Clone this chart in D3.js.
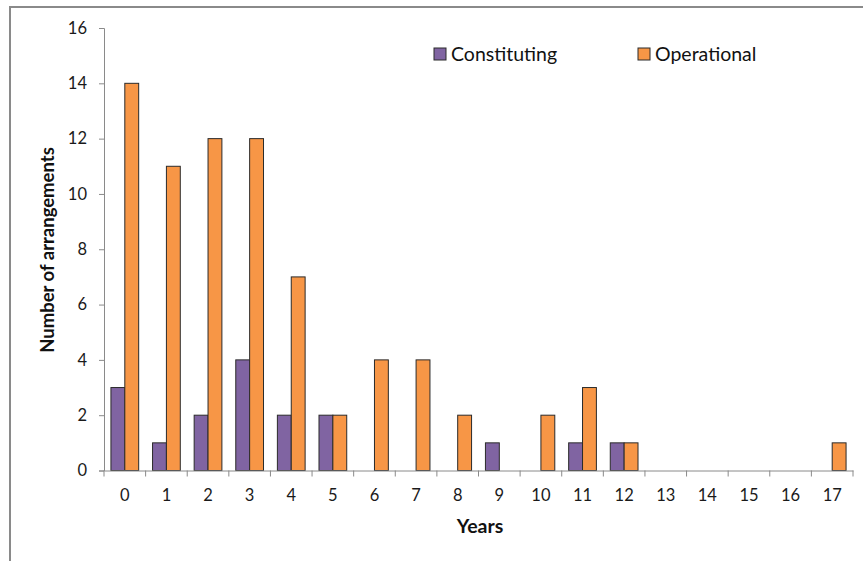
<!DOCTYPE html>
<html><head><meta charset="utf-8">
<script src="https://cdn.jsdelivr.net/npm/d3@7/dist/d3.min.js"></script>
<style>body{margin:0;background:#fff}svg{display:block}text{font-family:Lato,"Open Sans",sans-serif}</style>
</head><body>
<script>
const categories = ["0","1","2","3","4","5","6","7","8","9","10","11","12","13","14","15","16","17"];
const constituting = [3,1,2,4,2,2,0,0,0,1,0,1,1,0,0,0,0,0];
const operational = [14,11,12,12,7,2,4,4,2,0,2,3,1,0,0,0,0,1];
const seriesNames = ["Constituting","Operational"];
const colors = ["#8064A2","#F79646"];
const yTicks = [0,2,4,6,8,10,12,14,16];

const W=863,H=561;
const svg=d3.select("body").append("svg").attr("width",W).attr("height",H);
svg.append("rect").attr("x",10).attr("y",7).attr("width",W+20).attr("height",H+20)
  .attr("fill","#fff").attr("stroke","#8a8a8a").attr("stroke-width",2);

const pL=104,pR=853,pT=28,pB=470.5;
const x=d3.scaleBand().domain(categories).range([pL,pR]).paddingInner(0).paddingOuter(0);
const y=d3.scaleLinear().domain([0,16]).range([pB,pT]);
const inner=d3.scaleBand().domain(seriesNames).range([0,x.bandwidth()]).paddingInner(0).paddingOuter(0.5);

const data=[constituting,operational];
data.forEach((vals,si)=>{
  svg.append("g").selectAll("rect").data(vals.map((v,i)=>({v,c:categories[i]})).filter(d=>d.v>0))
    .join("rect")
    .attr("x",d=>x(d.c)+inner(seriesNames[si]))
    .attr("y",d=>y(d.v))
    .attr("width",inner.bandwidth())
    .attr("height",d=>y(0)-y(d.v))
    .attr("fill",colors[si]).attr("stroke","#2b2b2b").attr("stroke-width",1);
});

// y axis
const ya=svg.append("g").attr("transform",`translate(${pL},0)`)
  .call(d3.axisLeft(y).tickValues(yTicks).tickSize(5).tickPadding(12));
ya.select(".domain").attr("stroke","#8a8a8a");
ya.selectAll(".tick line").attr("stroke","#8a8a8a");
ya.selectAll("text").attr("font-size",16.5).attr("fill","#1a1a1a").style("font-family","Lato,sans-serif");

// x axis
const xa=svg.append("g").attr("transform",`translate(0,${pB})`)
  .call(d3.axisBottom(x).tickSize(0).tickPadding(19));
xa.select(".domain").attr("stroke","#8a8a8a");
xa.selectAll("text").attr("font-size",16.5).attr("fill","#1a1a1a").style("font-family","Lato,sans-serif");
const bounds=categories.map(c=>x(c)).concat([pR]);
svg.append("g").selectAll("line").data(bounds).join("line")
  .attr("x1",d=>d).attr("x2",d=>d).attr("y1",pB).attr("y2",pB+6)
  .attr("stroke","#8a8a8a");

// titles
svg.append("text").attr("x",480).attr("y",533).attr("text-anchor","middle")
  .attr("font-size",19.5).attr("font-weight","bold").attr("fill","#111").text("Years");
svg.append("text").attr("transform","translate(54,250) rotate(-90)").attr("text-anchor","middle")
  .attr("font-size",18.5).attr("font-weight","bold").attr("fill","#111").text("Number of arrangements");

// legend
const legX=[434,638];
seriesNames.forEach((n,i)=>{
  svg.append("rect").attr("x",legX[i]).attr("y",48).attr("width",12).attr("height",12)
    .attr("fill",colors[i]).attr("stroke","#2b2b2b").attr("stroke-width",1);
  svg.append("text").attr("x",legX[i]+17).attr("y",60.5).attr("font-size",19.5).attr("fill","#111").text(n);
});
</script>
</body></html>
